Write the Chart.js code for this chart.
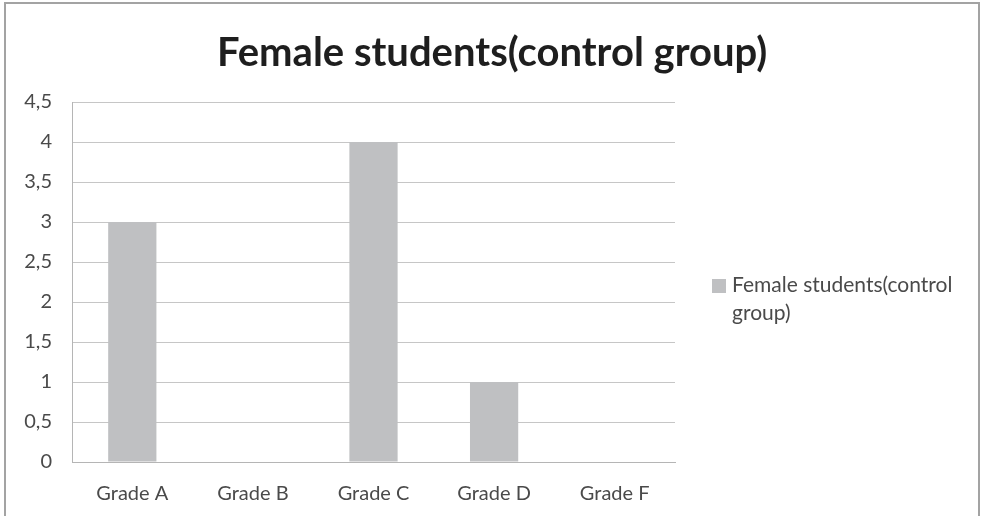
<!DOCTYPE html>
<html>
<head>
<meta charset="utf-8">
<script src="https://cdn.jsdelivr.net/npm/chart.js@4.4.1/dist/chart.umd.min.js"></script>
<style>
  html, body { margin: 0; padding: 0; background: #fff; }
  #wrap { position: relative; width: 984px; height: 516px; overflow: hidden; }
  #frame { position: absolute; left: 4px; top: 2px; width: 976px; height: 600px; border: 2px solid #a3a3a3; box-sizing: border-box; }
  canvas { position: absolute; left: 0; top: 0; }
</style>
</head>
<body>
<div id="wrap">
  <div id="frame"></div>
  <canvas id="canvas" width="984" height="516"></canvas>
</div>
<script>
const titel = 'Female students(control group)'
const kategorier = ['Grade A', 'Grade B', 'Grade C', 'Grade D', 'Grade F']
const antall = [3, 0, 4, 1, 0]
const legendLinjer = ['Female students(control', 'group)']
const yMax = 4.5
const ySteg = 0.5

const fontNavn = 'Lato, "Open Sans", sans-serif'
const stolpeFarge = '#bfc0c2'

// egen legend, siden Chart.js ikke bryter legend-tekst over flere linjer
const legendPlugin = {
    id: 'toLinjerLegend',
    afterDraw(chart) {
        const ctx = chart.ctx
        const x = chart.chartArea.right + 37
        const y = 279
        ctx.save()
        ctx.fillStyle = stolpeFarge
        ctx.fillRect(x, y, 14, 14)
        ctx.fillStyle = '#4a4a4a'
        ctx.font = '21px ' + fontNavn
        ctx.textBaseline = 'middle'
        for (let i = 0; i < legendLinjer.length; i++) {
            ctx.fillText(legendLinjer[i], x + 20, y + 6 + i * 28)
        }
        ctx.restore()
    }
}

const ctx = document.getElementById('canvas').getContext('2d')
const config = {
    type: 'bar',
    data: {
        labels: kategorier,
        datasets: [{
            label: legendLinjer.join(' '),
            data: antall,
            backgroundColor: stolpeFarge,
            borderWidth: 0,
            categoryPercentage: 1,
            barPercentage: 0.4
        }]
    },
    options: {
        responsive: false,
        animation: false,
        layout: { padding: { left: 0, right: 0, top: 0, bottom: 0 } },
        plugins: {
            legend: { display: false },
            tooltip: { enabled: false },
            title: {
                display: true,
                text: titel,
                color: '#1e1e1e',
                font: { family: fontNavn, size: 40, weight: 'bold', lineHeight: 1.2 },
                padding: { top: 29, bottom: 25 }
            }
        },
        scales: {
            x: {
                grid: { display: false, drawTicks: false },
                border: { display: true, color: '#b5b5b5', width: 1 },
                ticks: { color: '#4a4a4a', font: { family: fontNavn, size: 20, lineHeight: 1.2 }, padding: 20 },
                afterFit(scale) { scale.height = 54 }
            },
            y: {
                min: 0,
                max: yMax,
                grid: { color: '#c6c6c6', lineWidth: 1, drawTicks: false },
                border: { display: true, color: '#b5b5b5', width: 1 },
                ticks: {
                    stepSize: ySteg,
                    color: '#4a4a4a',
                    font: { family: fontNavn, size: 20 },
                    padding: 20,
                    callback: function(v) { return String(v).replace('.', ',') }
                },
                afterFit(scale) { scale.width = 72 }
            },
            hoyre: {
                type: 'linear',
                position: 'right',
                display: true,
                grid: { display: false, drawTicks: false },
                border: { display: false },
                ticks: { display: false },
                afterFit(scale) { scale.width = 309 }
            }
        }
    },
    plugins: [legendPlugin]
}
const myChart = new Chart(ctx, config)
</script>
</body>
</html>
